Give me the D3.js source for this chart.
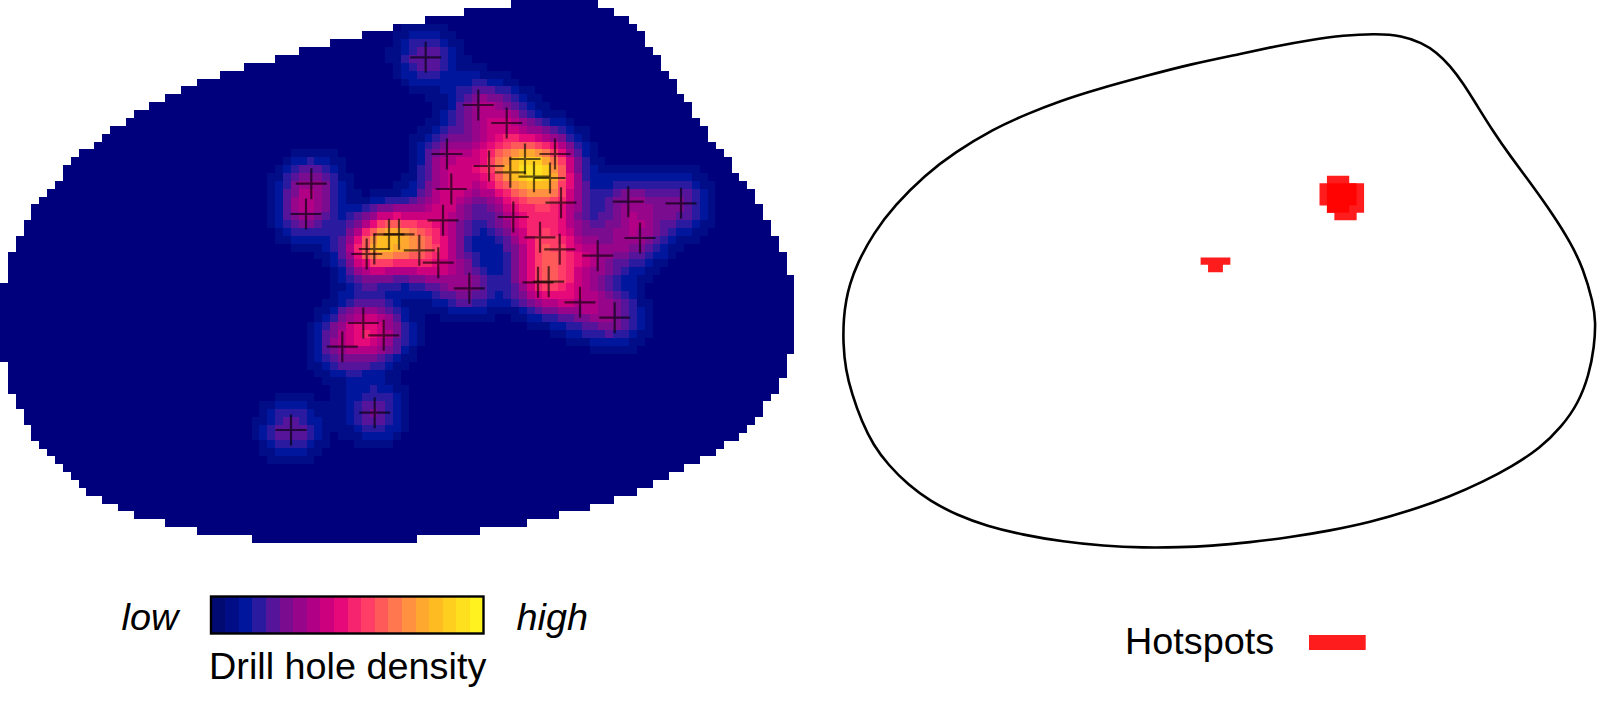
<!DOCTYPE html>
<html><head><meta charset="utf-8">
<script src="https://cdn.jsdelivr.net/npm/d3@7/dist/d3.min.js"></script>
<style>html,body{margin:0;padding:0;background:#fff;overflow:hidden}svg{display:block}text{font-family:"Liberation Sans",Arial,sans-serif;fill:#000}</style>
</head><body><svg id="c" width="1600" height="709"></svg>
<script>
// Drill holes (map pixel units)
const holeX=[425.7,478.3,506.7,447,525,555,489,510.3,534,550,451.3,561,628.3,681,513.3,443,640,540,559.7,597.7,419.3,438.3,311.3,306,374.3,389,399,366.7,363.3,383.7,342.3,374.7,291,469.3,580,614.7,538,548.7];
const holeY=[57.3,105,123,154,159,154,166,172.3,176.7,178,189,202.7,201.7,203.3,217,220.3,238,237.3,249.3,255.7,250.3,262.7,183.7,214,249,234.3,234.3,254,323,335.3,346.7,412.7,430,288.3,302.3,317.7,282.3,281.7];
// Map mask: first row and end row (exclusive) of each grid column
const colTop=[36,32,30,28,26,25,24,23,21,20,19,19,18,17,16,16,15,14,14,13,13,12,12,11,11,10,10,10,9,9,9,8,8,8,8,7,7,7,6,6,6,6,5,5,5,5,4,4,4,4,3,3,3,3,2,2,2,2,2,1,1,1,1,1,1,0,0,0,0,0,0,0,0,0,0,0,1,1,2,2,3,4,6,7,9,10,12,13,15,16,18,19,20,22,23,24,26,28,30,32,35];
const colEnd=[46,50,52,54,56,57,58,59,60,61,62,63,63,64,64,65,65,66,66,66,66,67,67,67,67,68,68,68,68,68,68,68,69,69,69,69,69,69,69,69,69,69,69,69,69,69,69,69,69,69,69,69,69,68,68,68,68,68,68,68,68,67,67,67,67,67,67,66,66,66,66,65,65,65,65,64,64,64,63,63,63,62,62,61,61,60,60,59,59,58,58,57,56,56,55,54,53,51,50,48,45];
// Colour levels of the legend
const palette=["#00007c","#000d86","#00169c","#2a1a9f","#55149a","#7a0c90","#96058a","#b10086","#cc007f","#e6097a","#f6246f","#ff3d66","#ff5a5a","#ff774e","#ff9140","#ffa82f","#ffbb22","#ffcf1f","#ffe01e","#fff21f"];
const legendPalette=["#000a70"].concat(palette.slice(1));
// Right panel outline
const outlineX=[849.5,857.3,873.3,895,925,955,993.3,1026.7,1060,1096.7,1146.7,1190,1243.3,1276.7,1310,1343.3,1376.7,1401.7,1421.7,1436.7,1450,1463.3,1476.7,1493.3,1510,1530,1553.3,1570,1583.3,1593.3,1595.7,1594.3,1589,1578.3,1561.7,1540,1511.7,1483.3,1450,1410,1370,1330,1290,1250,1210,1180,1143.3,1103.3,1063.3,1023.3,986.7,956.7,930,908.3,888.3,873.3,861.7,851.7,845.7,843,843.7,846.2];
const outlineY=[285,263.3,233.3,205,175,152.3,129,114,101,89.3,75.7,64.3,53.3,46,40,35.3,33.7,35.7,42.7,52.3,65.7,83.3,105,131.7,155.7,182.3,215,241.7,268.3,303.3,321.7,346.7,375,403.3,426.7,448.3,466.7,481.7,496.7,510.7,522.3,530.7,537.3,542.3,546,547.3,547.7,546,541.7,535,526,515,501,485,465,445,421.7,393.3,370,343.3,316.7,300];
// Hotspot layers: [row, first col, last col]
const hotLayerA=[[0,1,3],[1,0,4],[2,0,4],[3,0,4],[4,1,3],[11,-16,-13],[12,-15,-14]];
const hotLayerB=[[1,1,5],[2,1,5],[3,1,5],[4,1,5],[5,2,4]];
const labels={low:"low",high:"high",density:"Drill hole density",hotspots:"Hotspots"};

const svg=d3.select("#c");
const cell=7.862;
const nCols=colTop.length, nRows=69;
const gx=d3.scaleLinear().domain([0,nCols]).range([0,nCols*cell]);
const gy=d3.scaleLinear().domain([0,nRows]).range([0,nRows*cell]);
const sigma=21, amp=5;
const density=(c,r)=>{const x=gx(c+.5),y=gy(r+.5);return d3.sum(holeX,(h,i)=>amp*Math.exp(-((x-h)**2+(y-holeY[i])**2)/(2*sigma*sigma)));};
const lvl=d3.scaleQuantize().domain([0,palette.length]).range(palette);
const cells=[];
colTop.forEach((t,c)=>{for(let r=t;r<colEnd[c];r++)cells.push({c,r,v:Math.min(density(c,r),19.99)});});
svg.append("g").attr("shape-rendering","crispEdges").selectAll("rect").data(cells).join("rect")
 .attr("x",d=>gx(d.c)).attr("y",d=>gy(d.r)).attr("width",cell+.4).attr("height",cell+.4).attr("fill",d=>lvl(d.v));
// crosses
const arm=15.5;
const gh=svg.append("g").attr("stroke","#000").attr("stroke-opacity",.62).attr("stroke-width",2.2);
holeX.forEach((h,i)=>{
 gh.append("path").attr("d",d3.line()([[h-arm,holeY[i]],[h+arm,holeY[i]]])+d3.line()([[h,holeY[i]-arm],[h,holeY[i]+arm]])).attr("fill","none");
});
// legend bar
const lx=d3.scaleBand().domain(d3.range(legendPalette.length)).range([211.5,483.5]);
svg.append("g").attr("shape-rendering","crispEdges").selectAll("rect").data(legendPalette).join("rect")
 .attr("x",(d,i)=>lx(i)).attr("y",596.5).attr("width",lx.bandwidth()+.5).attr("height",36.5).attr("fill",d=>d);
svg.append("rect").attr("x",211).attr("y",596.5).attr("width",272.5).attr("height",37).attr("fill","none").attr("stroke","#000").attr("stroke-width",2.4);
const txt=(s,x,y,it)=>svg.append("text").attr("x",x).attr("y",y).attr("font-size",37.8).attr("font-style",it?"italic":"normal").text(s);
txt(labels.low,121.5,630,true);
txt(labels.high,516.5,630,true);
txt(labels.density,209,679,false);
txt(labels.hotspots,1125,654,false);
// Right outline
svg.append("path").attr("d",d3.line().curve(d3.curveBasisClosed)(outlineX.map((x,i)=>[x,outlineY[i]]))).attr("fill","none").attr("stroke","#000").attr("stroke-width",2.6);
// Hotspots
const hc=7.43;
const hx=d3.scaleLinear().domain([0,1]).range([1319.5,1319.5+hc]);
const hy=d3.scaleLinear().domain([0,1]).range([175.7,175.7+hc]);
[hotLayerA,hotLayerB].forEach(L=>{
 const g=svg.append("g").attr("fill","#ff0000").attr("fill-opacity",.89);
 g.append("path").attr("d",L.map(([r,a,b])=>`M${hx(a)},${hy(r)}H${hx(b+1)}V${hy(r+1)}H${hx(a)}Z`).join(""));
});
svg.append("rect").attr("x",1309).attr("y",635).attr("width",56.7).attr("height",15).attr("fill","#ff1c1c");
</script></body></html>
